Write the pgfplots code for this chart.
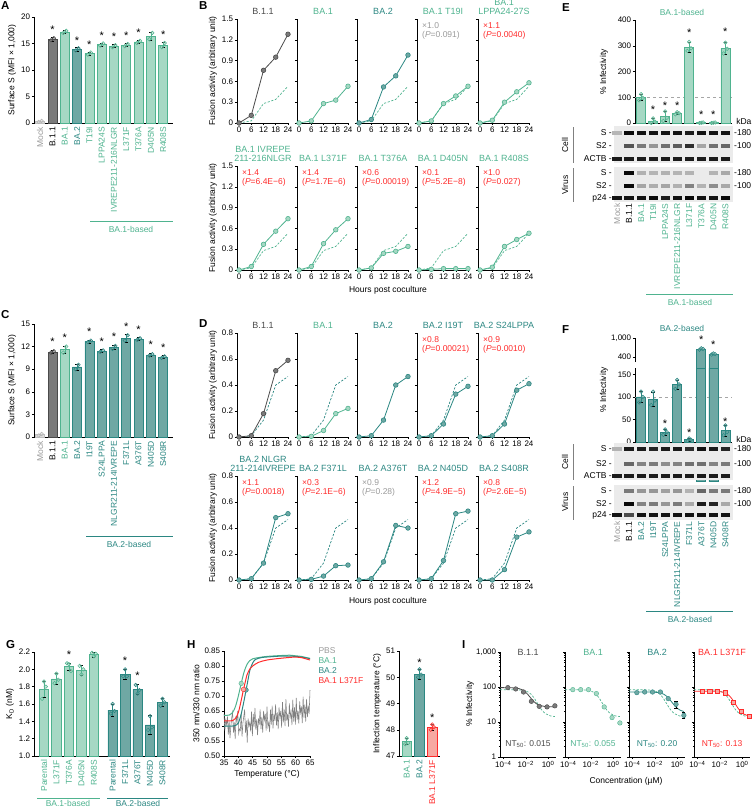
\documentclass[border=0pt]{standalone}
\usepackage{fontspec}
\setmainfont{Liberation Sans}
\usepackage{pgfplots}
\pgfplotsset{compat=1.18}
\definecolor{ba1}{HTML}{4FB38F}
\definecolor{ba1f}{HTML}{A6D8C4}
\definecolor{ba2}{HTML}{2B8782}
\definecolor{ba2f}{HTML}{6FA8A4}
\definecolor{b11}{HTML}{4A4A4A}
\definecolor{b11f}{HTML}{7A7A7A}
\definecolor{rd}{HTML}{FF2B2B}
\definecolor{rdf}{HTML}{F7A9A2}
\definecolor{pg}{HTML}{9A9A9A}
\definecolor{blotbg}{HTML}{EBEBEB}
\tikzset{
  ann/.style={anchor=north west, align=left, font=\fontsize{8.5}{9.5}\selectfont, inner sep=0pt, xshift=5pt, yshift=-3pt},
  star/.style={font=\fontsize{11}{11}\selectfont, inner sep=0pt},
}
\pgfplotsset{
  every axis/.append style={scale only axis, axis lines*=left, tick align=outside,
    major tick length=2.2pt, minor tick length=1.2pt,
    every tick/.style={black, line width=0.5pt},
    axis line style={line width=0.6pt, black},
    tick label style={font=\fontsize{8}{9}\selectfont},
    label style={font=\fontsize{8.5}{9.5}\selectfont},
    title style={font=\fontsize{9}{9}\selectfont, at={(0.5,1)}, anchor=south, yshift=-2pt, align=center, inner sep=0.5pt},
    /pgf/number format/assume math mode=true, clip=false,
    xticklabel style={inner sep=1.5pt}, yticklabel style={inner sep=1.5pt}},
  rl/.style={xticklabel style={rotate=90, anchor=east, font=\fontsize{8.5}{9}\selectfont}},
  eb/.style={error bars/.cd, y dir=both, y explicit, error bar style={line width=0.5pt}, error mark options={rotate=90, mark size=1.6pt, line width=0.5pt}},
  bar/.style={ybar, bar width=#1, bar shift=0pt, line width=0.6pt},
  dot/.style 2 args={only marks, mark=*, mark size=1.8pt, mark options={fill=#1, draw=#2, fill opacity=0.55, line width=0.5pt}},
  fus/.style={width=52pt, height=104pt, xmin=-1, xmax=24.5, ymin=0, xtick={0,6,12,18,24}},
  fl/.style 2 args={#1, line width=0.8pt, mark=*, mark size=2.3pt, mark options={fill=#2, draw=#1, line width=0.6pt, solid}},
  fd/.style={#1, line width=0.7pt, dash pattern=on 2.2pt off 1.6pt},
  blot/.style={width=119pt, xmin=-0.25, xmax=9.63, axis line style={draw=none}, xtick=\empty, ytick=\empty,
    axis background/.style={fill=blotbg},
    colormap={bw}{color(0cm)=(blotbg) color(1cm)=(black)}, point meta min=0, point meta max=1},
  band/.style={scatter, only marks, mark=-, scatter src=explicit, mark size=4.6pt, mark options={line width=3.3pt}},
  ipl/.style={width=56pt, height=105pt, xmin=-4.3, xmax=0.7, ymin=1, ymax=1000,
    xtick={-4,-2,0}, minor xtick={-3,-1}, xticklabels={10\textsuperscript{−4},10\textsuperscript{−2},10\textsuperscript{0}},
    ytick={1,10,100,1000}},
}
\newcommand{\fus}[4]{\begin{axis}[fus, at={(#1pt,-#2pt)}, anchor=south west, #3]#4\end{axis}}
\newcommand{\ann}[3]{\node[ann, text=#1] at (rel axis cs:0,1) {×#2\\(\textit{P}=#3)};}
\newcommand{\stars}[1]{\addplot[draw=none, mark=none, point meta=y, nodes near coords={*}, nodes near coords style={star, anchor=center, black}] coordinates {#1};}
\newcommand{\dBAone}{\addplot[fd=ba1] coordinates {(0,0)(6,0.03)(12,0.28)(18,0.34)(24,0.53)};}
\newcommand{\dBAtwo}{\addplot[fd=ba2] coordinates {(0,0)(6,0.01)(12,0.13)(18,0.40)(24,0.465)};}
\newcommand{\sm}{\fontsize{8.5}{9.5}\selectfont}
\newcommand{\ntf}[2]{\node[font=\sm, text=#1] at (rel axis cs:0.5,0.125) {NT\textsubscript{50}: #2};}
\newcommand{\ttl}[2]{\node[font=\fontsize{9}{10}\selectfont, text=#1, anchor=center] at (rel axis cs:0.5,1) {#2};}
\newcommand{\dfit}{\addplot[fd=ba1] coordinates {(-4.3,84)(-3.26,83.8)(-2.76,83.2)(-2.26,80.6)(-2.01,77.3)(-1.76,71.2)(-1.51,61.5)(-1.26,49)(-1.01,36.5)(-0.76,26.8)(-0.51,20.7)(-0.26,17.4)(0.24,14.8)(0.6,14.3)};}
\begin{document}
\begin{tikzpicture}[x=1pt,y=1pt]
\useasboundingbox (0,0) rectangle (754,-808);
% panel letters
\foreach \L/\px/\py in {A/1/1, B/199/1, E/562/3, C/1/310, D/199/319, F/562/325, G/6/640, H/187/640, I/462/640}
  \node[anchor=north west, font=\bfseries\fontsize{11.5}{12}\selectfont, inner sep=0] at (\px,-\py) {\L};

% ---------------- A ----------------
\begin{axis}[at={(34pt,-123pt)}, anchor=south west, width=139pt, height=106pt, xmin=-0.5, xmax=10.8, ymin=0, ymax=20,
  ytick={0,5,10,15,20}, xtick={0,...,10}, xtick style={draw=none},
  xticklabels={\textcolor{pg}{Mock},B.1.1,\textcolor{ba1}{BA.1},\textcolor{ba2}{BA.2},\textcolor{ba1}{T19I},\textcolor{ba1}{LPPA24S},\textcolor{ba1}{IVREPE211-216NLGR},\textcolor{ba1}{L371F},\textcolor{ba1}{T376A},\textcolor{ba1}{D405N},\textcolor{ba1}{R408S}},
  rl, ylabel={Surface S (MFI × 1,000)}]
\addplot[bar=9pt, fill=gray!25, draw=gray!50] coordinates {(0,0.3)};
\addplot[bar=9pt, fill=b11f, draw=b11, eb] coordinates {(1,15.8)+-(0,0.3)};
\addplot[bar=9pt, fill=ba1f, draw=ba1, eb] coordinates {(2,17.2)+-(0,0.3) (4,13.1)+-(0,0.3) (5,14.8)+-(0,0.3) (6,14.5)+-(0,0.3) (7,14.7)+-(0,0.3) (8,15.3)+-(0,0.3) (9,16.4)+-(0,0.8) (10,14.7)+-(0,0.5)};
\addplot[bar=9pt, fill=ba2f, draw=ba2, eb] coordinates {(3,13.9)+-(0,0.3)};
\addplot[dot={gray!30}{gray!60}] coordinates {(-0.12,0.2)(0.12,0.4)};
\addplot[dot={b11f}{b11}] coordinates {(0.88,15.6)(1.12,16.0)};
\addplot[dot={ba1f}{ba1}] coordinates {(1.88,17.0)(2.12,17.4)(3.88,12.9)(4.12,13.3)(4.88,14.6)(5.12,15.0)(5.88,14.3)(6.12,14.7)(6.88,14.5)(7.12,14.9)(7.88,15.1)(8.12,15.5)(8.88,15.8)(9.12,17.0)(9.88,14.3)(10.12,15.1)};
\addplot[dot={ba2f}{ba2}] coordinates {(2.88,13.7)(3.12,14.1)};
\stars{(1,17.6)(3,15.6)(4,14.8)(5,16.5)(6,16.2)(7,16.4)(8,17.0)(10,16.6)}
\end{axis}
\draw[ba1, line width=0.6pt] (90,-221) -- (173,-221);
\node[ba1, font=\sm] at (131,-229) {BA.1-based};

% ---------------- B ----------------
\fus{237}{123}{ymax=1.5, ytick={0,0.3,0.6,0.9,1.2,1.5}, ylabel={Fusion activity (arbitrary unit)}, title={B.1.1}, title style={text=b11}}{
 \dBAone
 \addplot[fl={b11}{b11f}] coordinates {(0,0)(6,0.11)(12,0.76)(18,0.95)(24,1.28)};}
\fus{297}{123}{ymax=1.5, ytick={0,0.3,0.6,0.9,1.2,1.5}, yticklabels={}, title={BA.1}, title style={text=ba1}}{
 \addplot[fl={ba1}{ba1f}] coordinates {(0,0)(6,0.03)(12,0.28)(18,0.33)(24,0.53)};}
\fus{357}{123}{ymax=1.5, ytick={0,0.3,0.6,0.9,1.2,1.5}, yticklabels={}, title={BA.2}, title style={text=ba2}}{
 \dBAone
 \addplot[fl={ba2}{ba2f}] coordinates {(0,0)(6,0.05)(12,0.52)(18,0.68)(24,0.98)};}
\fus{417}{123}{ymax=1.5, ytick={0,0.3,0.6,0.9,1.2,1.5}, yticklabels={}, title={BA.1 T19I}, title style={text=ba1}}{
 \dBAone
 \addplot[fl={ba1}{ba1f}] coordinates {(0,0)(6,0.03)(12,0.28)(18,0.39)(24,0.53)};
 \ann{pg}{1.0}{0.091}}
\fus{478}{123}{ymax=1.5, ytick={0,0.3,0.6,0.9,1.2,1.5}, yticklabels={}, title={BA.1\\LPPA24-27S}, title style={text=ba1}}{
 \dBAone
 \addplot[fl={ba1}{ba1f}] coordinates {(0,0)(6,0.04)(12,0.30)(18,0.45)(24,0.58)};
 \ann{rd}{1.1}{0.0040}}
\fus{237}{270}{ymax=1.5, ytick={0,0.3,0.6,0.9,1.2,1.5}, ylabel={Fusion activity (arbitrary unit)}, title={BA.1 IVREPE\\211-216NLGR}, title style={text=ba1}}{
 \dBAone
 \addplot[fl={ba1}{ba1f}] coordinates {(0,0)(6,0.05)(12,0.37)(18,0.56)(24,0.74)};
 \ann{rd}{1.4}{6.4E−6}}
\fus{297}{270}{ymax=1.5, ytick={0,0.3,0.6,0.9,1.2,1.5}, yticklabels={}, title={BA.1 L371F}, title style={text=ba1}}{
 \dBAone
 \addplot[fl={ba1}{ba1f}] coordinates {(0,0)(6,0.05)(12,0.38)(18,0.58)(24,0.74)};
 \ann{rd}{1.4}{1.7E−6}}
\fus{357}{270}{ymax=1.5, ytick={0,0.3,0.6,0.9,1.2,1.5}, yticklabels={}, title={BA.1 T376A}, title style={text=ba1}}{
 \dBAone
 \addplot[fl={ba1}{ba1f}] coordinates {(0,0)(6,0.03)(12,0.24)(18,0.27)(24,0.34)};
 \ann{rd}{0.6}{0.00019}}
\fus{417}{270}{ymax=1.5, ytick={0,0.3,0.6,0.9,1.2,1.5}, yticklabels={}, title={BA.1 D405N}, title style={text=ba1}}{
 \dBAone
 \addplot[fl={ba1}{ba1f}] coordinates {(0,0)(6,0.01)(12,0.02)(18,0.02)(24,0.02)};
 \ann{rd}{0.1}{5.2E−8}}
\fus{478}{270}{ymax=1.5, ytick={0,0.3,0.6,0.9,1.2,1.5}, yticklabels={}, title={BA.1 R408S}, title style={text=ba1}}{
 \dBAone
 \addplot[fl={ba1}{ba1f}] coordinates {(0,0)(6,0.04)(12,0.34)(18,0.44)(24,0.53)};
 \ann{rd}{1.0}{0.027}}
\node[font=\sm] at (388,-290) {Hours post coculture};

% ---------------- E ----------------
\node[ba1, font=\sm] at (682,-12) {BA.1-based};
\node[rotate=90, font=\sm] at (604,-72) {\% Infectivity};
\begin{axis}[at={(635pt,-123pt)}, anchor=south west, width=97pt, height=103pt, xmin=1.5, xmax=9.55, ymin=0, ymax=400, ytick={0,100,200,300,400}, xtick=\empty]
\addplot[gray!70, dashed, line width=0.5pt] coordinates {(1.5,100)(9.55,100)};
\addplot[bar=9pt, fill=ba1f, draw=ba1, eb] coordinates {(2,100)+-(0,12) (3,8)+-(0,10) (4,25)+-(0,20) (5,38)+-(0,5) (6,295)+-(0,20) (7,1)+-(0,1) (8,1)+-(0,1) (9,290)+-(0,22)};
\addplot[dot={ba1f}{ba1}] coordinates {(1.85,88)(2,112)(2.15,98)(2.85,0)(3,18)(3.15,5)(3.85,8)(4,45)(4.15,20)(4.85,34)(5,42)(5.15,38)(5.85,280)(6,315)(6.15,290)(6.85,0)(7,1)(7.15,2)(7.85,0)(8,1)(8.15,2)(8.85,270)(9,312)(9.15,288)};
\stars{(3,50)(4,66)(5,66)(6,350)(7,31)(8,31)(9,354)}
\end{axis}
\node[anchor=east, font=\sm] at (755,-121) {kDa};
\begin{axis}[blot, at={(614pt,-163pt)}, anchor=south west, height=37pt, ymin=-163, ymax=-126]
\addplot[band] table[meta=c] {
x y c
0 -133 0.03
1 -133 0.95
2 -133 0.9
3 -133 0.9
4 -133 0.9
5 -133 0.9
6 -133 0.85
7 -133 0.9
8 -133 0.9
9 -133 0.9
1 -146 0.55
2 -146 0.35
3 -146 0.2
4 -146 0.4
5 -146 0.5
6 -146 0.75
7 -146 0.12
8 -146 0.4
9 -146 0.45
0 -159 0.85
1 -159 0.85
2 -159 0.85
3 -159 0.85
4 -159 0.85
5 -159 0.85
6 -159 0.85
7 -159 0.85
8 -159 0.85
9 -159 0.85
};
\end{axis}
\begin{axis}[blot, at={(614pt,-202pt)}, anchor=south west, height=35pt, ymin=-202, ymax=-167,
  xtick={0,...,9}, major tick length=0pt,
  xticklabels={\textcolor{pg}{Mock},B.1.1,\textcolor{ba1}{BA.1},\textcolor{ba1}{T19I},\textcolor{ba1}{LPPA24S},\textcolor{ba1}{IVREPE211-216NLGR},\textcolor{ba1}{L371F},\textcolor{ba1}{T376A},\textcolor{ba1}{D405N},\textcolor{ba1}{R408S}},
  rl]
\addplot[band] table[meta=c] {
x y c
1 -173 0.95
2 -173 0.06
3 -173 0.04
4 -173 0.06
5 -173 0.04
6 -173 0.05
8 -173 0.05
9 -173 0.1
1 -186 0.95
2 -186 0.12
3 -186 0.08
4 -186 0.12
5 -186 0.06
6 -186 0.3
7 -186 0.05
8 -186 0.25
9 -186 0.1
0 -198 0.9
1 -198 0.9
2 -198 0.9
3 -198 0.95
4 -198 0.85
5 -198 0.9
6 -198 0.95
7 -198 0.9
8 -198 0.9
9 -198 0.95
};
\end{axis}
\foreach \yy/\tt in {133/S -,146/S2 -,159/ACTB -,173/S -,186/S2 -,198/p24 -}
  \node[anchor=east, font=\sm, inner sep=1pt] at (613,-\yy) {\tt};
\foreach \yy/\tt in {133/-180,146/-100,173/-180,186/-100}
  \node[anchor=west, font=\sm, inner sep=1pt] at (733,-\yy) {\tt};
\draw[gray, line width=0.8pt] (573,-127) -- (573,-163);
\draw[gray, line width=0.8pt] (573,-168) -- (573,-202);
\node[rotate=90, font=\sm] at (565,-145) {Cell};
\node[rotate=90, font=\sm] at (565,-185) {Virus};
\draw[ba1, line width=0.6pt] (646,-294) -- (733,-294);
\node[ba1, font=\sm] at (690,-302) {BA.1-based};

% ---------------- C ----------------
\begin{axis}[at={(34pt,-437pt)}, anchor=south west, width=139pt, height=113pt, xmin=-0.5, xmax=10.8, ymin=0, ymax=15,
  ytick={0,3,6,9,12,15}, xtick={0,...,10}, xtick style={draw=none},
  xticklabels={\textcolor{pg}{Mock},B.1.1,\textcolor{ba1}{BA.1},\textcolor{ba2}{BA.2},\textcolor{ba2}{I19T},\textcolor{ba2}{S24LPPA},\textcolor{ba2}{NLGR211-214IVREPE},\textcolor{ba2}{F371L},\textcolor{ba2}{A376T},\textcolor{ba2}{N405D},\textcolor{ba2}{S408R}},
  rl, ylabel={Surface S (MFI × 1,000)}]
\addplot[bar=9pt, fill=gray!25, draw=gray!50] coordinates {(0,0.3)};
\addplot[bar=9pt, fill=b11f, draw=b11, eb] coordinates {(1,11.3)+-(0,0.2)};
\addplot[bar=9pt, fill=ba1f, draw=ba1, eb] coordinates {(2,11.6)+-(0,0.5)};
\addplot[bar=9pt, fill=ba2f, draw=ba2, eb] coordinates {(3,9.3)+-(0,0.4) (4,12.7)+-(0,0.2) (5,11.4)+-(0,0.2) (6,11.9)+-(0,0.3) (7,13.1)+-(0,0.5) (8,13.0)+-(0,0.2) (9,10.9)+-(0,0.2) (10,10.6)+-(0,0.2)};
\addplot[dot={gray!30}{gray!60}] coordinates {(-0.12,0.2)(0.12,0.4)};
\addplot[dot={b11f}{b11}] coordinates {(0.88,11.2)(1.12,11.4)};
\addplot[dot={ba1f}{ba1}] coordinates {(1.88,11.2)(2.12,12.0)};
\addplot[dot={ba2f}{ba2}] coordinates {(2.88,9.0)(3.12,9.6)(3.88,12.6)(4.12,12.8)(4.88,11.3)(5.12,11.5)(5.88,11.7)(6.12,12.1)(6.88,12.8)(7.12,13.5)(7.88,12.9)(8.12,13.1)(8.88,10.8)(9.12,11.0)(9.88,10.5)(10.12,10.7)};
\stars{(1,12.7)(2,13.2)(4,14.0)(5,12.7)(6,13.3)(7,14.7)(8,14.3)(9,12.2)(10,11.9)}
\end{axis}
\draw[ba2, line width=0.6pt] (86,-536) -- (173,-536);
\node[ba2, font=\sm] at (129,-544) {BA.2-based};

% ---------------- D ----------------
\fus{237}{437}{ymax=0.8, ytick={0,0.2,0.4,0.6,0.8}, ylabel={Fusion activity (arbitrary unit)}, title={B.1.1}, title style={text=b11}}{
 \dBAtwo
 \addplot[fl={b11}{b11f}] coordinates {(0,0)(6,0.01)(12,0.18)(18,0.51)(24,0.59)};}
\fus{297}{437}{ymax=0.8, ytick={0,0.2,0.4,0.6,0.8}, yticklabels={}, title={BA.1}, title style={text=ba1}}{
 \dBAtwo
 \addplot[fl={ba1}{ba1f}] coordinates {(0,0)(6,0.005)(12,0.05)(18,0.18)(24,0.22)};}
\fus{357}{437}{ymax=0.8, ytick={0,0.2,0.4,0.6,0.8}, yticklabels={}, title={BA.2}, title style={text=ba2}}{
 \addplot[fl={ba2}{ba2f}] coordinates {(0,0)(6,0.01)(12,0.13)(18,0.40)(24,0.465)};}
\fus{417}{437}{ymax=0.8, ytick={0,0.2,0.4,0.6,0.8}, yticklabels={}, title={BA.2 I19T}, title style={text=ba2}}{
 \dBAtwo
 \addplot[fl={ba2}{ba2f}] coordinates {(0,0)(6,0.01)(12,0.10)(18,0.33)(24,0.39)};
 \ann{rd}{0.8}{0.00021}}
\fus{478}{437}{ymax=0.8, ytick={0,0.2,0.4,0.6,0.8}, yticklabels={}, title={BA.2 S24LPPA}, title style={text=ba2}}{
 \dBAtwo
 \addplot[fl={ba2}{ba2f}] coordinates {(0,0)(6,0.01)(12,0.10)(18,0.36)(24,0.41)};
 \ann{rd}{0.9}{0.0010}}
\fus{237}{580}{ymax=0.8, ytick={0,0.2,0.4,0.6,0.8}, ylabel={Fusion activity (arbitrary unit)}, title={BA.2 NLGR\\211-214IVREPE}, title style={text=ba2}}{
 \dBAtwo
 \addplot[fl={ba2}{ba2f}] coordinates {(0,0)(6,0.01)(12,0.13)(18,0.48)(24,0.51)};
 \ann{rd}{1.1}{0.0018}}
\fus{297}{580}{ymax=0.8, ytick={0,0.2,0.4,0.6,0.8}, yticklabels={}, title={BA.2 F371L}, title style={text=ba2}}{
 \dBAtwo
 \addplot[fl={ba2}{ba2f}] coordinates {(0,0)(6,0.005)(12,0.03)(18,0.11)(24,0.115)};
 \ann{rd}{0.3}{2.1E−6}}
\fus{357}{580}{ymax=0.8, ytick={0,0.2,0.4,0.6,0.8}, yticklabels={}, title={BA.2 A376T}, title style={text=ba2}}{
 \dBAtwo
 \addplot[fl={ba2}{ba2f}] coordinates {(0,0)(6,0.01)(12,0.14)(18,0.42)(24,0.40)};
 \ann{pg}{0.9}{0.28}}
\fus{417}{580}{ymax=0.8, ytick={0,0.2,0.4,0.6,0.8}, yticklabels={}, title={BA.2 N405D}, title style={text=ba2}}{
 \dBAtwo
 \addplot[fl={ba2}{ba2f}] coordinates {(0,0)(6,0.01)(12,0.15)(18,0.51)(24,0.53)};
 \ann{rd}{1.2}{4.9E−5}}
\fus{478}{580}{ymax=0.8, ytick={0,0.2,0.4,0.6,0.8}, yticklabels={}, title={BA.2 S408R}, title style={text=ba2}}{
 \dBAtwo
 \addplot[fl={ba2}{ba2f}] coordinates {(0,0)(6,0.00)(12,0.08)(18,0.33)(24,0.37)};
 \ann{rd}{0.8}{2.6E−5}}
\node[font=\sm] at (388,-601) {Hours post coculture};

% ---------------- F ----------------
\node[ba2, font=\sm] at (682,-328) {BA.2-based};
\node[rotate=90, font=\sm] at (604,-390) {\% Infectivity};
\begin{axis}[at={(635pt,-362pt)}, anchor=south west, width=97pt, height=24pt, xmin=1.5, xmax=9.55, ymode=log, ymin=315, ymax=1000,
  ytick={400,1000}, yticklabels={400,{1,000}}, yminorticks=false, axis x line=none, axis y line*=left, xtick=\empty]
\addplot[bar=9pt, fill=ba2f, draw=ba2, log origin=infty] coordinates {(7,588)(8,463)};
\addplot[dot={ba2f}{ba2}] coordinates {(6.85,570)(7,610)(7.15,590)(7.85,450)(8,475)(8.15,462)};
\stars{(7,900)(8,720)}
\end{axis}
\begin{axis}[at={(635pt,-442pt)}, anchor=south west, width=97pt, height=74pt, xmin=1.5, xmax=9.55, ymin=0, ymax=164.4, ytick={0,50,100,150}, xtick=\empty]
\addplot[gray!70, dashed, line width=0.5pt] coordinates {(1.5,100)(9.55,100)};
\addplot[bar=9pt, fill=ba2f, draw=ba2, eb] coordinates {(2,100)+-(0,12) (3,95)+-(0,15) (4,22)+-(0,6) (5,128)+-(0,10) (6,5)+-(0,3) (9,25)+-(0,12)};
\addplot[bar=9pt, fill=ba2f, draw=ba2] coordinates {(7,164.4)(8,164.4)};
\addplot[dot={ba2f}{ba2}] coordinates {(1.85,88)(2,112)(2.15,100)(2.85,82)(3,112)(3.15,92)(3.85,16)(4,28)(4.15,22)(4.85,118)(5,138)(5.15,128)(5.85,2)(6,8)(6.15,5)(8.85,15)(9,37)(9.15,22)};
\stars{(4,40)(6,20)(9,46)}
\end{axis}
\begin{axis}[blot, at={(614pt,-480pt)}, anchor=south west, height=37pt, ymin=-480, ymax=-443]
\addplot[band] table[meta=c] {
x y c
0 -449 0.05
1 -449 0.85
2 -449 0.85
3 -449 0.8
4 -449 0.85
5 -449 0.85
6 -449 0.75
7 -449 0.9
8 -449 0.85
9 -449 0.8
1 -464 0.45
2 -464 0.3
3 -464 0.35
4 -464 0.25
5 -464 0.3
6 -464 0.4
7 -464 0.4
8 -464 0.3
9 -464 0.35
0 -476 0.85
1 -476 0.85
2 -476 0.85
3 -476 0.85
4 -476 0.85
5 -476 0.85
6 -476 0.85
7 -476 0.85
8 -476 0.85
9 -476 0.85
};
\end{axis}
\begin{axis}[blot, at={(614pt,-520pt)}, anchor=south west, height=35pt, ymin=-520, ymax=-485,
  xtick={0,...,9}, major tick length=0pt,
  xticklabels={\textcolor{pg}{Mock},B.1.1,\textcolor{ba2}{BA.2},\textcolor{ba2}{I19T},\textcolor{ba2}{S24LPPA},\textcolor{ba2}{NLGR211-214IVREPE},\textcolor{ba2}{F371L},\textcolor{ba2}{A376T},\textcolor{ba2}{N405D},\textcolor{ba2}{S408R}},
  rl]
\addplot[band] table[meta=c] {
x y c
1 -491 0.35
2 -491 0.2
3 -491 0.2
4 -491 0.15
5 -491 0.2
6 -491 0.05
7 -491 0.45
8 -491 0.35
9 -491 0.35
1 -504 0.95
2 -504 0.3
3 -504 0.35
4 -504 0.2
5 -504 0.35
6 -504 0.1
7 -504 0.85
8 -504 0.8
9 -504 0.1
0 -515 0.9
1 -515 0.6
2 -515 0.9
3 -515 0.9
4 -515 0.9
5 -515 0.9
6 -515 0.9
7 -515 0.9
8 -515 0.9
9 -515 0.9
};
\end{axis}
\node[anchor=east, font=\sm] at (755,-439) {kDa};
\foreach \yy/\tt in {449/S -,464/S2 -,476/ACTB -,491/S -,504/S2 -,515/p24 -}
  \node[anchor=east, font=\sm, inner sep=1pt] at (613,-\yy) {\tt};
\foreach \yy/\tt in {449/-180,464/-100,491/-180,504/-100}
  \node[anchor=west, font=\sm, inner sep=1pt] at (733,-\yy) {\tt};
\draw[gray, line width=0.8pt] (573,-444) -- (573,-480);
\draw[gray, line width=0.8pt] (573,-486) -- (573,-520);
\node[rotate=90, font=\sm] at (565,-462) {Cell};
\node[rotate=90, font=\sm] at (565,-502) {Virus};
\draw[ba2, line width=0.6pt] (646,-611) -- (733,-611);
\node[ba2, font=\sm] at (690,-619) {BA.2-based};

% ---------------- G ----------------
\begin{axis}[at={(34pt,-756pt)}, anchor=south west, width=136pt, height=104pt, xmin=-0.8, xmax=10.1, ymin=1.0, ymax=2.2,
  ytick={1.0,1.2,1.4,1.6,1.8,2.0,2.2}, yticklabel style={/pgf/number format/.cd, fixed, fixed zerofill, precision=1},
  xtick={0,1,2,3,4,5.5,6.5,7.5,8.5,9.5}, xtick style={draw=none},
  xticklabels={\textcolor{ba1}{Parental},\textcolor{ba1}{L371F},\textcolor{ba1}{T376A},\textcolor{ba1}{D405N},\textcolor{ba1}{R408S},\textcolor{ba2}{Parental},\textcolor{ba2}{F371L},\textcolor{ba2}{A376T},\textcolor{ba2}{N405D},\textcolor{ba2}{S408R}},
  rl, ylabel={K\textsubscript{D} (nM)}, clip=true, clip mode=individual]
\addplot[bar=9.5pt, fill=ba1f, draw=ba1, eb] coordinates {(0,1.77)+-(0,0.09) (1,1.89)+-(0,0.06) (2,2.03)+-(0,0.04) (3,1.99)+-(0,0.06) (4,2.17)+-(0,0.03)};
\addplot[bar=9.5pt, fill=ba2f, draw=ba2, eb] coordinates {(5.5,1.53)+-(0,0.07) (6.5,1.94)+-(0,0.06) (7.5,1.77)+-(0,0.06) (8.5,1.36)+-(0,0.11) (9.5,1.62)+-(0,0.05)};
\addplot[dot={ba1f}{ba1}] coordinates {(-0.15,1.66)(0,1.86)(0.15,1.80)(0.85,1.84)(1,1.95)(1.15,1.88)(1.85,2.07)(2,2.06)(2.15,1.98)(2.85,2.04)(3,1.94)(3.15,2.00)(3.85,2.19)(4,2.15)(4.15,2.18)};
\addplot[dot={ba2f}{ba2}] coordinates {(5.35,1.49)(5.5,1.60)(5.65,1.52)(6.35,1.92)(6.5,2.00)(6.65,1.92)(7.35,1.82)(7.5,1.72)(7.65,1.76)(8.35,1.30)(8.5,1.46)(8.65,1.33)(9.35,1.58)(9.5,1.66)(9.65,1.62)};
\stars{(2,2.17)(4,2.29)(6.5,2.10)(7.5,1.93)}
\end{axis}
\draw[ba1, line width=0.6pt] (37,-798) -- (100,-798);
\node[ba1, font=\sm] at (68,-803) {BA.1-based};
\draw[ba2, line width=0.6pt] (107,-798) -- (168,-798);
\node[ba2, font=\sm] at (138,-803) {BA.2-based};

% ---------------- H ----------------
\begin{axis}[at={(224pt,-756pt)}, anchor=south west, width=86pt, height=105pt, xmin=35, xmax=65, ymin=0.5, ymax=0.85,
  xtick={35,40,...,65}, ytick={0.5,0.55,...,0.86}, yticklabel style={/pgf/number format/.cd, fixed, fixed zerofill, precision=2},
  xlabel={Temperature (°C)}, ylabel={350 nm/330 nm ratio}]
\addplot[gray, line width=0.55pt] coordinates {(35.0,0.640)(35.3,0.585)(35.6,0.620)(35.9,0.605)(36.2,0.632)(36.5,0.571)(36.8,0.615)(37.1,0.560)(37.4,0.600)(37.7,0.628)(38.0,0.645)(38.3,0.578)(38.6,0.612)(38.9,0.556)(39.2,0.634)(39.5,0.616)(39.8,0.650)(40.1,0.575)(40.4,0.590)(40.7,0.585)(41.0,0.640)(41.3,0.565)(41.6,0.610)(41.9,0.632)(42.2,0.655)(42.5,0.578)(42.8,0.618)(43.1,0.545)(43.4,0.625)(43.7,0.600)(44.0,0.612)(44.3,0.582)(44.6,0.648)(44.9,0.566)(45.2,0.640)(45.5,0.598)(45.8,0.660)(46.1,0.588)(46.4,0.622)(46.7,0.570)(47.0,0.625)(47.3,0.605)(47.6,0.655)(47.9,0.590)(48.2,0.630)(48.5,0.578)(48.8,0.650)(49.1,0.620)(49.4,0.640)(49.7,0.585)(50.0,0.665)(50.3,0.598)(50.6,0.612)(50.9,0.580)(51.2,0.655)(51.5,0.605)(51.8,0.668)(52.1,0.592)(52.4,0.640)(52.7,0.618)(53.0,0.672)(53.3,0.602)(53.6,0.645)(53.9,0.590)(54.2,0.662)(54.5,0.628)(54.8,0.650)(55.1,0.595)(55.4,0.680)(55.7,0.612)(56.0,0.655)(56.3,0.600)(56.6,0.690)(56.9,0.618)(57.2,0.640)(57.5,0.598)(57.8,0.675)(58.1,0.630)(58.4,0.648)(58.7,0.603)(59.0,0.688)(59.3,0.615)(59.6,0.662)(59.9,0.605)(60.2,0.694)(60.5,0.620)(60.8,0.650)(61.1,0.608)(61.4,0.682)(61.7,0.645)(62.0,0.665)(62.3,0.610)(62.6,0.698)(62.9,0.628)(63.2,0.672)(63.5,0.615)(63.8,0.690)(64.1,0.630)(64.4,0.668)(64.7,0.640)(65.0,0.720)};
\addplot[ba1, line width=1pt, smooth] coordinates {(35,0.635)(37,0.637)(38,0.645)(39,0.665)(40,0.70)(41,0.742)(42,0.78)(43,0.805)(44,0.818)(45,0.824)(47,0.828)(50,0.832)(55,0.835)(58,0.836)(60,0.834)(62,0.832)(65,0.825)};
\addplot[ba2, line width=1pt, smooth] coordinates {(35,0.60)(38,0.60)(39,0.602)(40,0.61)(41,0.64)(42,0.685)(42.7,0.72)(43.5,0.76)(44,0.785)(45,0.81)(46,0.822)(48,0.828)(50,0.83)(55,0.833)(60,0.832)(65,0.825)};
\addplot[rd, line width=1pt, smooth] coordinates {(35,0.617)(38,0.618)(39,0.625)(40,0.645)(41,0.685)(41.8,0.722)(42.5,0.75)(43,0.77)(44,0.79)(45,0.80)(47,0.812)(50,0.82)(55,0.826)(60,0.83)(62,0.828)(65,0.82)};
\addplot[only marks, mark=*, mark size=2.3pt, mark options={fill=ba1f, draw=ba1}] coordinates {(41,0.742)};
\addplot[only marks, mark=*, mark size=2.3pt, mark options={fill=ba2f, draw=ba2}] coordinates {(42.7,0.72)};
\addplot[only marks, mark=*, mark size=2.3pt, mark options={fill=rdf, draw=rd}] coordinates {(41.8,0.722)};
\end{axis}
\node[anchor=west, font=\sm, pg] at (315,-651) {PBS};
\node[anchor=west, font=\sm, ba1] at (315,-661) {BA.1};
\node[anchor=west, font=\sm, ba2] at (315,-671) {BA.2};
\node[anchor=west, font=\sm, rd] at (315,-681) {BA.1 L371F};
\begin{axis}[at={(399pt,-756pt)}, anchor=south west, width=41pt, height=105pt, xmin=-0.6, xmax=2.6, ymin=47, ymax=51,
  ytick={47,48,49,50,51}, xtick={0,1,2}, xtick style={draw=none},
  xticklabels={\textcolor{ba1}{BA.1},\textcolor{ba2}{BA.2},\textcolor{rd}{BA.1 L371F}}, rl,
  ylabel={Inflection temperature (°C)}, clip=true, clip mode=individual]
\addplot[bar=9.5pt, fill=ba1f, draw=ba1, eb] coordinates {(0,47.55)+-(0,0.12)};
\addplot[bar=9.5pt, fill=ba2f, draw=ba2, eb] coordinates {(1,50.12)+-(0,0.2)};
\addplot[bar=9.5pt, fill=rdf, draw=rd, eb] coordinates {(2,48.1)+-(0,0.12)};
\addplot[dot={ba1f}{ba1}] coordinates {(-0.12,47.45)(0,47.68)(0.12,47.5)};
\addplot[dot={ba2f}{ba2}] coordinates {(0.88,50.0)(1,50.3)(1.12,50.1)};
\addplot[dot={rdf}{rd}] coordinates {(1.88,48.0)(2,48.2)(2.12,48.1)};
\stars{(1,50.55)(2,48.45)}
\end{axis}

% ---------------- I ----------------
\node[rotate=90, font=\sm] at (470,-704) {\% Infectivity};
\node[font=\sm] at (626,-781) {Concentration (µM)};
\begin{axis}[ipl, ymode=log, at={(500pt,-757pt)}, anchor=south west, yticklabels={1,10,100,{1,000}}]
\dfit
\addplot[b11, line width=0.8pt] coordinates {(-4.3,96)(-3.82,95.8)(-3.32,95.2)(-2.82,92.7)(-2.57,89.4)(-2.32,83.4)(-2.07,73.9)(-1.82,61.5)(-1.57,49.1)(-1.32,39.6)(-1.07,33.6)(-0.82,30.3)(-0.32,27.8)(0.18,27.2)(0.6,27)};
\addplot[only marks, mark=*, mark size=2.3pt, mark options={fill=b11f, draw=b11}] coordinates {(-3.6,96)(-2.9,88)(-2.2,72)(-1.5,39)(-0.8,28)(-0.1,27)(0.6,29)};
\ttl{b11}{B.1.1}\ntf{b11}{0.015}
\end{axis}
\begin{axis}[ipl, ymode=log, at={(565pt,-757pt)}, anchor=south west, yticklabels={}]
\dfit
\addplot[only marks, mark=*, mark size=2.3pt, mark options={fill=ba1f, draw=ba1}] coordinates {(-3.6,84)(-2.9,84)(-2.2,84)(-1.5,65)(-0.8,27)(-0.1,13.4)(0.6,9.4)};
\ttl{ba1}{BA.1}\ntf{ba1}{0.055}
\end{axis}
\begin{axis}[ipl, ymode=log, at={(629pt,-757pt)}, anchor=south west, yticklabels={}]
\dfit
\addplot[ba2, line width=0.8pt] coordinates {(-4.3,72)(-2.7,71.9)(-2.2,71.4)(-1.7,69.5)(-1.45,66.9)(-1.2,62.3)(-0.95,55)(-0.7,45.5)(-0.45,36)(-0.2,28.7)(0.05,24.1)(0.3,21.5)(0.6,20)};
\addplot[only marks, mark=*, mark size=2.3pt, mark options={fill=ba2f, draw=ba2}, error bars/.cd, y dir=both, y explicit, error mark options={rotate=90, mark size=1.6pt}] coordinates {(-3.6,69)(-2.9,72)(-2.2,72)(-1.5,72)(-0.8,46.6)(-0.1,32)+-(0,7)(0.6,15.5)+-(0,3)};
\ttl{ba2}{BA.2}\ntf{ba2}{0.20}
\end{axis}
\begin{axis}[ipl, ymode=log, at={(694pt,-757pt)}, anchor=south west, yticklabels={}]
\dfit
\addplot[rd, line width=0.8pt] coordinates {(-4.3,76)(-2.89,75.8)(-2.39,75.3)(-1.89,73)(-1.64,70)(-1.39,64.7)(-1.14,56.1)(-0.89,45)(-0.64,33.9)(-0.39,25.3)(-0.14,20)(0.11,17)(0.61,14.7)};
\addplot[only marks, mark=square*, mark size=2.1pt, mark options={fill=rdf, draw=rd}] coordinates {(-3.6,77)(-2.9,75)(-2.2,75)(-1.5,69)(-0.8,37)(-0.1,20)(0.6,14.6)};
\ttl{rd}{BA.1 L371F}\ntf{rd}{0.13}
\end{axis}
\end{tikzpicture}
\end{document}
